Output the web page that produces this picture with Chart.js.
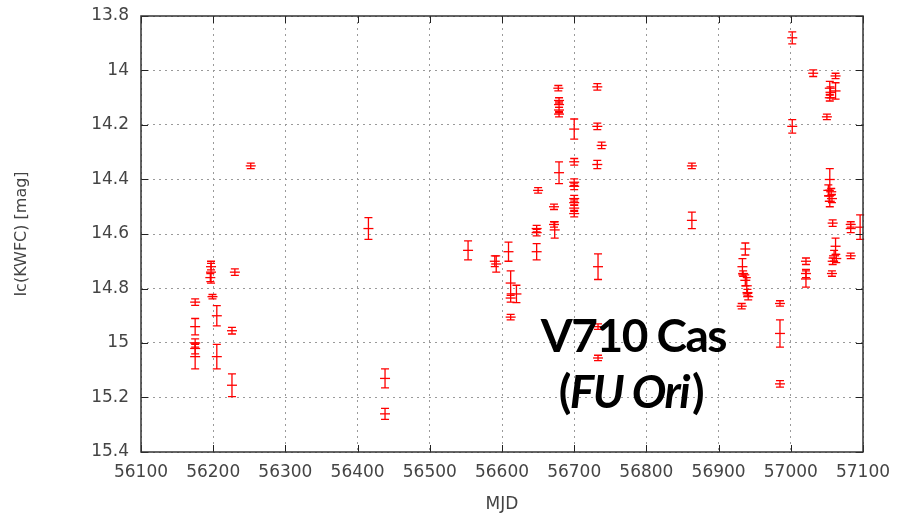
<!DOCTYPE html>
<html>
<head>
<meta charset="utf-8">
<script src="https://cdn.jsdelivr.net/npm/chart.js@4.4.1/dist/chart.umd.min.js"></script>
<style>
  html, body { margin: 0; padding: 0; background: #fff; }
  #wrap { width: 910px; height: 519px; }
</style>
</head>
<body>
<div id="wrap"><canvas id="lc"></canvas></div>
<script>
// V710 Cas light curve, Ic band (KWFC)
const mjd = [
    56175, 56175, 56175, 56175, 56175, 56197, 56197, 56196, 56199, 56205,
    56205, 56226, 56226, 56230, 56252, 56415, 56438, 56438, 56553, 56590,
    56592, 56609, 56612, 56612, 56620, 56612, 56648, 56648, 56648, 56650,
    56672, 56672, 56673, 56678, 56679, 56679, 56679, 56679, 56679, 56700,
    56700, 56700, 56700, 56700, 56700, 56700, 56700, 56732, 56732, 56732,
    56733, 56733, 56733, 56738, 56863, 56863, 56933, 56937, 56934, 56937,
    56939, 56940, 56941, 56932, 56985, 56985, 56985, 57002, 57002, 57021,
    57021, 57021, 57031, 57050, 57054, 57055, 57054, 57062, 57062, 57054,
    57052, 57056, 57053, 57057, 57054, 57058, 57062, 57060, 57063, 57058,
    57057, 57083, 57083, 57083, 57096
];
const mag = [
    14.85, 14.94, 15.00, 15.02, 15.05, 14.72, 14.74, 14.76, 14.83, 14.90,
    15.05, 14.955, 15.155, 14.74, 14.35, 14.58, 15.13, 15.26, 14.66, 14.70,
    14.71, 14.665, 14.78, 14.835, 14.82, 14.905, 14.665, 14.58, 14.595, 14.44,
    14.50, 14.565, 14.585, 14.065, 14.11, 14.125, 14.145, 14.16, 14.375, 14.215,
    14.335, 14.41, 14.425, 14.47, 14.485, 14.505, 14.525, 14.06, 14.205, 14.345,
    14.72, 14.94, 15.055, 14.275, 14.35, 14.55, 14.72, 14.655, 14.745, 14.77,
    14.79, 14.815, 14.83, 14.865, 14.855, 14.965, 15.15, 13.88, 14.205, 14.70,
    14.745, 14.765, 14.01, 14.17, 14.065, 14.08, 14.10, 14.075, 14.02, 14.40,
    14.44, 14.445, 14.46, 14.47, 14.48, 14.56, 14.645, 14.68, 14.69, 14.70,
    14.745, 14.565, 14.58, 14.68, 14.575
];
const magErr = [
    0.012, 0.03, 0.015, 0.02, 0.045, 0.012, 0.04, 0.015, 0.008, 0.037,
    0.045, 0.012, 0.042, 0.012, 0.01, 0.04, 0.035, 0.02, 0.035, 0.02,
    0.03, 0.035, 0.045, 0.015, 0.032, 0.01, 0.03, 0.012, 0.012, 0.01,
    0.01, 0.01, 0.03, 0.01, 0.01, 0.01, 0.01, 0.01, 0.04, 0.037,
    0.012, 0.012, 0.012, 0.012, 0.01, 0.012, 0.012, 0.012, 0.012, 0.015,
    0.047, 0.01, 0.01, 0.012, 0.01, 0.03, 0.03, 0.022, 0.01, 0.02,
    0.03, 0.012, 0.012, 0.01, 0.01, 0.05, 0.012, 0.022, 0.025, 0.012,
    0.015, 0.03, 0.012, 0.01, 0.025, 0.02, 0.012, 0.03, 0.01, 0.04,
    0.02, 0.012, 0.02, 0.015, 0.02, 0.012, 0.03, 0.02, 0.015, 0.012,
    0.01, 0.01, 0.015, 0.01, 0.045
];
const xTicksMin = 56100, xTicksMax = 57100, xStep = 100;
const yTicksMin = 13.8, yTicksMax = 15.4, yStep = 0.2;

const RED = '#ff0000';
const tickFont = { family: 'DejaVu Sans', size: 17 };

const points = mjd.map((m, i) => ({ x: m, y: mag[i], e: magErr[i] }));

// vertical error bars with caps
const errorBars = {
    id: 'errorBars',
    afterDatasetsDraw(chart) {
        const { ctx, scales: { x, y } } = chart;
        ctx.save();
        ctx.strokeStyle = RED;
        ctx.lineWidth = 1.3;
        points.forEach(p => {
            const px = x.getPixelForValue(p.x);
            const top = y.getPixelForValue(p.y - p.e);
            const bot = y.getPixelForValue(p.y + p.e);
            ctx.beginPath();
            ctx.moveTo(px, top); ctx.lineTo(px, bot);
            ctx.moveTo(px - 4, top); ctx.lineTo(px + 4, top);
            ctx.moveTo(px - 4, bot); ctx.lineTo(px + 4, bot);
            ctx.stroke();
        });
        ctx.restore();
    }
};

// gnuplot-like frame with inward ticks and the star label
const frame = {
    id: 'frame',
    afterDraw(chart) {
        const { ctx, chartArea: a, scales: { x, y } } = chart;
        ctx.save();
        ctx.strokeStyle = '#222';
        ctx.lineWidth = 1;
        ctx.beginPath();
        x.ticks.forEach(t => {
            const px = Math.round(x.getPixelForValue(t.value)) + 0.5;
            ctx.moveTo(px, a.bottom); ctx.lineTo(px, a.bottom - 7);
            ctx.moveTo(px, a.top); ctx.lineTo(px, a.top + 7);
        });
        y.ticks.forEach(t => {
            const py = Math.round(y.getPixelForValue(t.value)) + 0.5;
            ctx.moveTo(a.left, py); ctx.lineTo(a.left + 7, py);
            ctx.moveTo(a.right, py); ctx.lineTo(a.right - 7, py);
        });
        ctx.stroke();
        ctx.strokeStyle = '#333';
        ctx.lineWidth = 1.5;
        ctx.strokeRect(a.left, a.top, a.right - a.left, a.bottom - a.top);

        // label
        const cx = x.getPixelForValue(56782);
        ctx.fillStyle = '#000';
        ctx.textAlign = 'center';
        ctx.textBaseline = 'alphabetic';
        ctx.letterSpacing = '-1.5px';
        ctx.font = 'bold 46px Lato';
        ctx.fillText('V710 Cas', cx, y.getPixelForValue(15.033));
        const line2 = y.getPixelForValue(15.24);
        const parts = [['(', 'bold 46px Lato'], ['FU Ori', 'italic bold 46px Lato'], [')', 'bold 46px Lato']];
        let total = 0;
        parts.forEach(p => { ctx.font = p[1]; total += ctx.measureText(p[0]).width; });
        let sx = cx - total / 2 - 4;
        ctx.textAlign = 'left';
        parts.forEach(p => {
            ctx.font = p[1];
            ctx.fillText(p[0], sx, line2);
            sx += ctx.measureText(p[0]).width + (p[0] === 'FU Ori' ? 3 : 0);
        });
        ctx.restore();
    }
};

new Chart(document.getElementById('lc'), {
    type: 'scatter',
    data: {
        datasets: [{
            label: 'V710 Cas',
            data: points,
            pointStyle: 'line',
            pointRadius: 5,
            pointHoverRadius: 5,
            borderColor: RED,
            backgroundColor: RED,
            pointBorderWidth: 1.3
        }]
    },
    options: {
        responsive: true,
        maintainAspectRatio: false,
        animation: false,
        events: [],
        layout: { padding: { top: 16, right: 47, left: 0, bottom: 0 } },
        plugins: {
            legend: { display: false },
            tooltip: { enabled: false }
        },
        scales: {
            x: {
                type: 'linear',
                min: xTicksMin,
                max: xTicksMax,
                afterFit: s => { s.height = 67; },
                ticks: {
                    stepSize: xStep,
                    color: '#444',
                    font: tickFont,
                    padding: 10,
                    maxRotation: 0,
                    callback: v => String(v)
                },
                grid: { color: '#9a9a9a', lineWidth: 1, drawTicks: false },
                border: { display: false, dash: [2, 4] },
                title: {
                    display: true,
                    text: 'MJD',
                    color: '#444',
                    font: { family: 'DejaVu Sans', size: 17 },
                    padding: { top: 0, bottom: 4 }
                }
            },
            y: {
                type: 'linear',
                reverse: true,
                min: yTicksMin,
                max: yTicksMax,
                afterFit: s => { s.width = 141; s.paddingTop = 0; s.paddingBottom = 0; },
                ticks: {
                    stepSize: yStep,
                    color: '#444',
                    font: tickFont,
                    padding: 12,
                    callback: v => String(Number(v.toFixed(1)))
                },
                grid: { color: '#9a9a9a', lineWidth: 1, drawTicks: false },
                border: { display: false, dash: [2, 4] },
                title: {
                    display: true,
                    text: 'Ic(KWFC) [mag]',
                    color: '#444',
                    font: { family: 'DejaVu Sans', size: 16 },
                    padding: { top: 12, bottom: 0 }
                }
            }
        }
    },
    plugins: [errorBars, frame]
});
</script>
</body>
</html>
